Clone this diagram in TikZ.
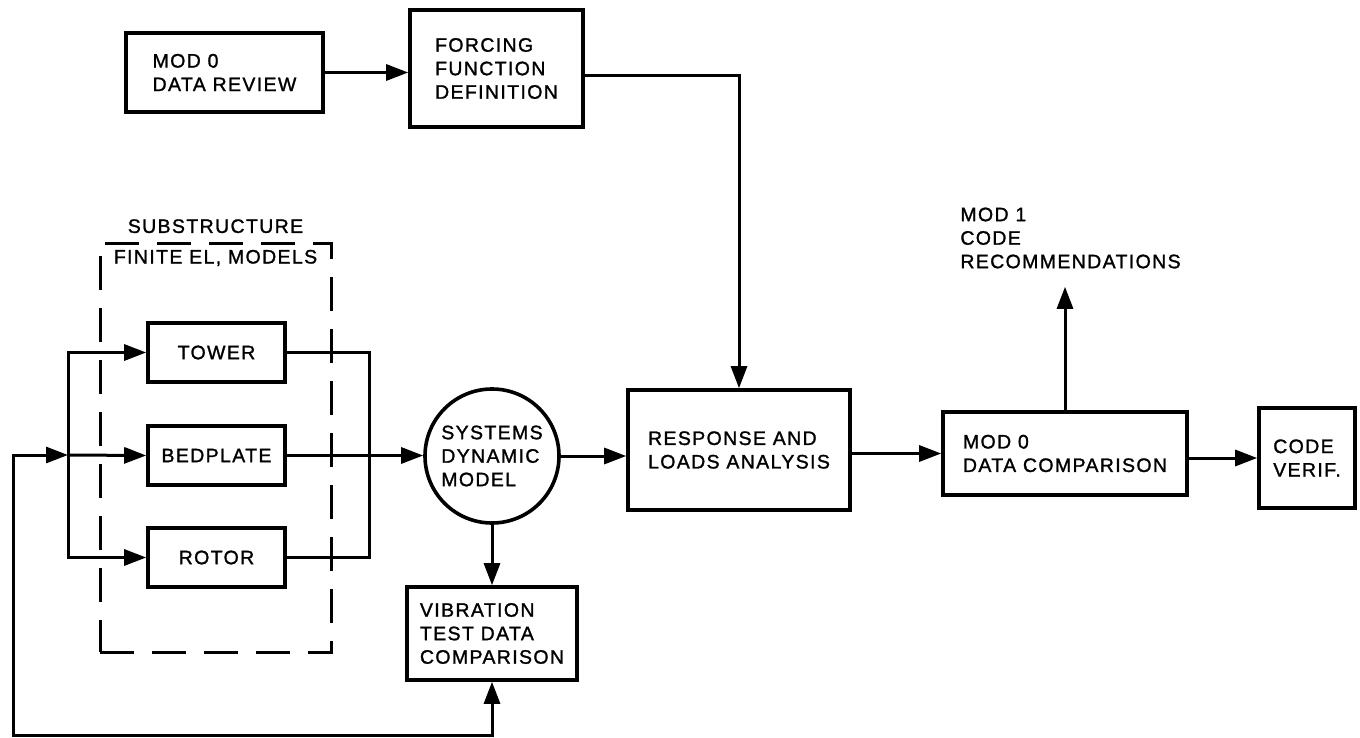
\documentclass[tikz,border=0pt]{standalone}
\usepackage{fontspec}
\setmainfont{Liberation Sans}[LetterSpace=7, FakeBold=1.3]
\usepackage{tikz}
\usetikzlibrary{shapes, positioning}
\usetikzlibrary{calc}
\usetikzlibrary{arrows.meta}

\tikzset{
	txt/.style={inner sep=0pt, align=left, font=\fontsize{9.75}{11.75}\selectfont},
	block/.style={txt, draw, line width=1.8pt},
	flow/.style={line width=1.5pt, -{Triangle[length=11pt, width=8pt]}},
	wire/.style={line width=1.5pt},
}

\begin{document}
\begin{tikzpicture}[x=0.5pt, y=-0.5pt]
	\useasboundingbox (0,0) rectangle (1360,738);

	\node[block, minimum width=98.5pt, minimum height=39.5pt] (review) at (224.5,72.5) {MOD 0\\DATA REVIEW};
	\node[block, minimum width=86.5pt, minimum height=58.5pt] (forcing) at (496.5,68.5) {FORCING\\FUNCTION\\DEFINITION};

	\node[draw, line width=1.5pt, dash pattern=on 17pt off 9pt, minimum width=115.5pt, minimum height=204.5pt] (sub) at (215.5,447.5) {};
	\node[txt, below=4pt of sub.north] (fem) {FINITE EL, MODELS};
	\node[txt, above=4pt of sub.north] (subtitle) {SUBSTRUCTURE};

	\node[block, minimum width=68.5pt, minimum height=29.5pt] (tower) at (216.5,352.5) {TOWER};
	\node[block, minimum width=68.5pt, minimum height=29.5pt] (bed) at (216.5,455.5) {BEDPLATE};
	\node[block, minimum width=68.5pt, minimum height=29.5pt] (rotor) at (216.5,557.5) {ROTOR};

	\node[block, circle, minimum size=67pt] (sdm) at (492,456) {SYSTEMS\\DYNAMIC\\MODEL};
	\node[block, minimum width=85pt, minimum height=46.5pt] (vib) at (492,633.5) {VIBRATION\\TEST DATA\\COMPARISON};
	\node[block, minimum width=111pt, minimum height=60pt] (response) at (739,450) {RESPONSE AND\\LOADS ANALYSIS};
	\node[block, minimum width=122pt, minimum height=41.5pt] (mcomp) at (1065,453.5) {MOD 0\\DATA COMPARISON};
	\node[block, minimum width=48pt, minimum height=50pt] (verif) at (1307,458) {CODE\\VERIF.};
	\node[txt, anchor=west] (rec) at (960,238) {MOD 1\\CODE\\RECOMMENDATIONS};

	\coordinate (split) at (68,455);
	\coordinate (merge) at (369,455);
	\coordinate (fb) at (13,735);

	\draw[flow] (review.east) -- (review.east -| forcing.west);
	\draw[flow] ([yshift=-3.5pt]forcing.east) -| (response.north);

	\draw[flow] (split) |- (tower.west);
	\draw[flow] (split) -- (bed.west);
	\draw[flow] (split) |- (rotor.west);
	\draw[wire] (tower.east) -| (merge) |- (rotor.east);
	\draw[flow] (bed.east) -- (bed.east -| sdm.west);

	\draw[flow] (sdm.south) -- (vib.north);
	\draw[{Triangle[length=11pt, width=8pt]}-{Triangle[length=11pt, width=8pt]}, line width=1.5pt] (vib.south) |- (fb) |- (split);

	\draw[flow] (sdm.east) -- (sdm.east -| response.west);
	\draw[flow] (response.east |- mcomp.west) -- (mcomp.west);
	\draw[flow] (mcomp.east |- verif.west) -- (verif.west);
	\draw[flow, shorten >=9pt] (mcomp.north) -- (mcomp.north |- rec.south);
\end{tikzpicture}
\end{document}
